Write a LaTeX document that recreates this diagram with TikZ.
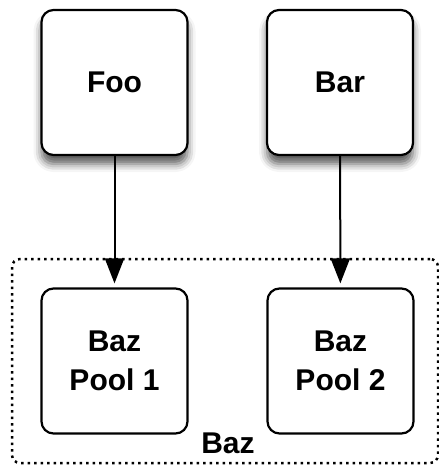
\documentclass[tikz,border=0pt]{standalone}
\usepackage{fontspec}
\setmainfont{Liberation Sans}
\usetikzlibrary{arrows.meta,shadows.blur}
\begin{document}
\begin{tikzpicture}[x=1pt,y=-1pt,
	box/.style={draw, line width=2.2pt, rounded corners=12pt, fill=white,
		minimum width=146pt, minimum height=145pt, align=center,
		font=\fontsize{30}{39}\selectfont\bfseries},
	topbox/.style={box, blur shadow={shadow xshift=0pt, shadow yshift=-9pt,
		shadow blur radius=8pt, shadow opacity=65}},
	link/.style={line width=2pt, -{Triangle[length=25pt,width=19pt]}, shorten >=4pt}]
	
	\useasboundingbox (0,0) rectangle (439,466);
	
	\node[draw, line width=2.5pt, dash pattern=on 2.5pt off 4pt, rounded corners=8pt,
		minimum width=426pt, minimum height=204pt] (baz) at (225,361){};
	\node[font=\fontsize{30}{36}\selectfont\bfseries, anchor=south] (bazlabel) at ([xshift=3pt,yshift=7pt]baz.south){Baz};
	
	\node[topbox] (foo) at (114.5,82.5){Foo};
	\node[topbox] (bar) at (340,82.5){Bar};
	\node[box] (pool1) at (114.5,361){Baz\\Pool 1};
	\node[box] (pool2) at (340.5,361){Baz\\Pool 2};
	
	%%%%% Arrows %%%%%%
	\draw[link] (foo)--(pool1);
	\draw[link] (bar)--(pool2);
	
\end{tikzpicture}
\end{document}
